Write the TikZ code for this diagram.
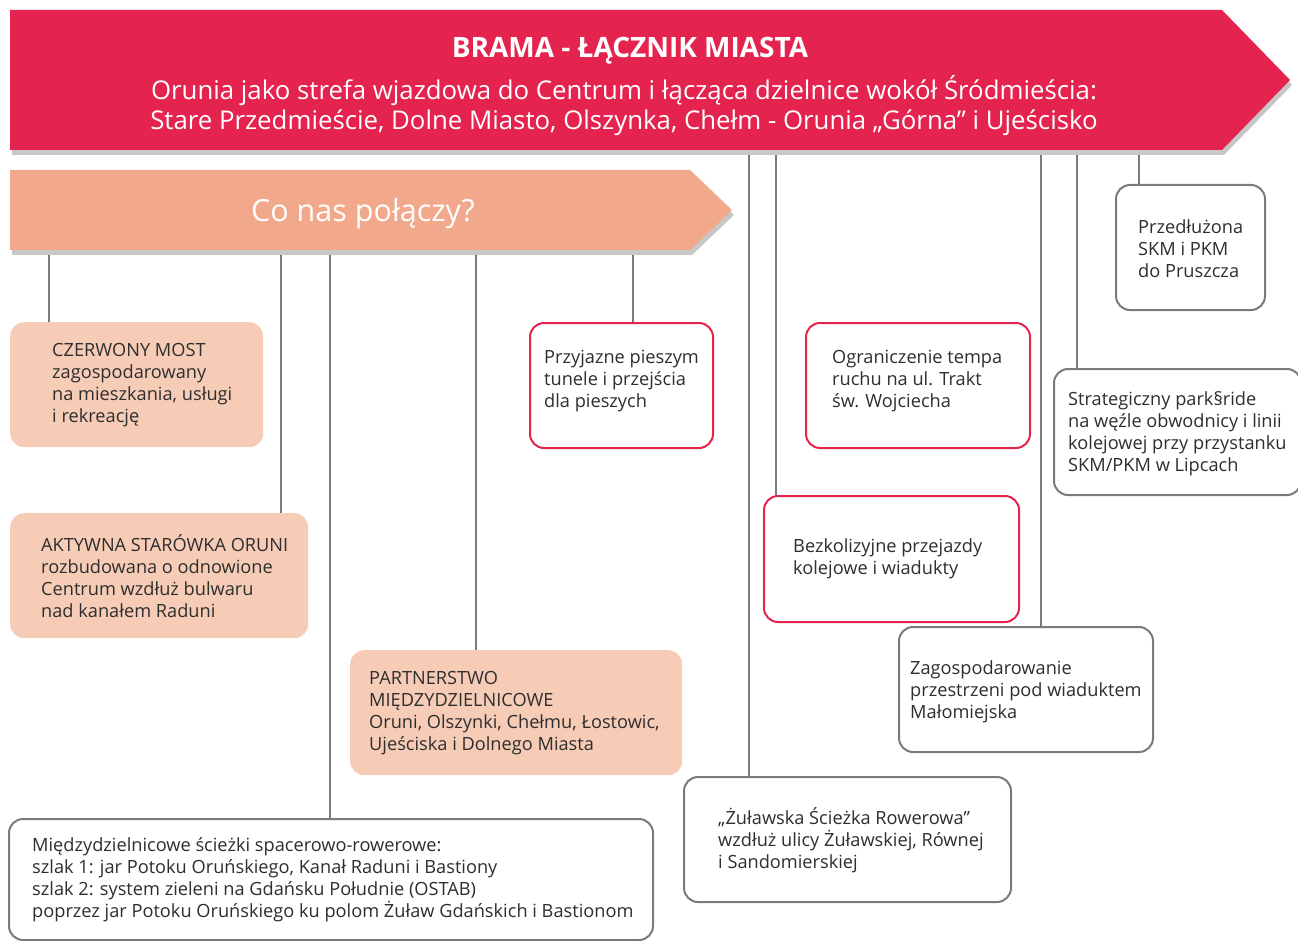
\documentclass[tikz,border=0pt]{standalone}
\usepackage{fontspec}
\setmainfont{Open Sans}
\definecolor{brred}{HTML}{E4234F}
\definecolor{brsalmon}{HTML}{F2A88A}
\definecolor{brlight}{HTML}{F6CCB7}
\definecolor{lngray}{HTML}{7A7A7A}
\definecolor{txtgray}{HTML}{2E2E2E}
\begin{document}
\begin{tikzpicture}[x=1pt,y=-1pt,
  pbox/.style={rectangle, rounded corners=14pt, anchor=north west, inner sep=0pt},
  fillbox/.style={pbox, fill=brlight},
  redbox/.style={pbox, draw=brred, line width=2pt, fill=white},
  graybox/.style={pbox, draw=lngray, line width=2pt, fill=white},
  txt/.style={anchor=west, align=left, font=\fontsize{18.2}{22}\selectfont, text=txtgray, inner sep=0pt},
  conn/.style={draw=lngray, line width=1.8pt},
  shadow/.style={fill=black!22}]
\useasboundingbox (0,0) rectangle (1298,941);
% connector start points
\coordinate (s1) at (49,252);
\coordinate (s2) at (281,252);
\coordinate (s3) at (330,252);
\coordinate (s4) at (476,252);
\coordinate (s5) at (633,252);
\coordinate (r1) at (749,152);
\coordinate (r2) at (776,152);
\coordinate (r3) at (1041,152);
\coordinate (r4) at (1077,152);
\coordinate (r5) at (1139,152);
% boxes
\node[fillbox, minimum width=253pt, minimum height=125pt] (czer) at (10,322) {};
\node[fillbox, minimum width=298pt, minimum height=125pt] (akt) at (10,513) {};
\node[fillbox, minimum width=332pt, minimum height=125pt] (part) at (350,650) {};
\node[graybox, minimum width=644pt, minimum height=121pt] (miedz) at (8,818) {};
\node[redbox, minimum width=183pt, minimum height=125pt] (przyj) at (529,322) {};
\node[redbox, minimum width=224pt, minimum height=125pt] (ogr) at (805,322) {};
\node[redbox, minimum width=255pt, minimum height=126pt] (bezk) at (763,495) {};
\node[graybox, minimum width=254pt, minimum height=125pt] (zag) at (898,626) {};
\node[graybox, minimum width=327pt, minimum height=125pt] (zul) at (683,776) {};
\node[graybox, minimum width=149pt, minimum height=125pt] (przed) at (1115,184) {};
\node[graybox, minimum width=247pt, minimum height=126pt] (strat) at (1053,368) {};
% connectors
\draw[conn] (s1) -- (s1 |- czer.north);
\draw[conn] (s2) -- (s2 |- akt.north);
\draw[conn] (s3) -- (s3 |- miedz.north);
\draw[conn] (s4) -- (s4 |- part.north);
\draw[conn] (s5) -- (s5 |- przyj.north);
\draw[conn] (r1) -- (r1 |- zul.north);
\draw[conn] (r2) -- (r2 |- bezk.north);
\draw[conn] (r3) -- (r3 |- zag.north);
\draw[conn] (r4) -- (r4 |- strat.north);
\draw[conn] (r5) -- (r5 |- przed.north);
% banners
\fill[shadow] (12,15) -- (1224,15) -- (1292,85) -- (1224,155) -- (12,155) -- cycle;
\fill[brred] (10,10) -- (1222,10) -- (1290,80) -- (1222,150) -- (10,150) -- cycle;
\fill[shadow] (12,175) -- (692,175) -- (734,215) -- (692,255) -- (12,255) -- cycle;
\fill[brsalmon] (10,170) -- (690,170) -- (732,210) -- (690,250) -- (10,250) -- cycle;
\node[text=white, font=\fontsize{28}{32}\selectfont\bfseries] (title) at (630,51) {BRAMA - ŁĄCZNIK MIASTA};
\node[text=white, font=\fontsize{25.8}{30}\selectfont, align=center] (sub) at (624,106) {Orunia jako strefa wjazdowa do Centrum i łącząca dzielnice wokół Śródmieścia:\\Stare Przedmieście, Dolne Miasto, Olszynka, Chełm - Orunia „Górna” i Ujeścisko};
\node[text=white, font=\fontsize{30.5}{34}\selectfont] (co) at (363,214) {Co nas połączy?};
% texts
\node[txt] at ([xshift=42pt]czer.west) {CZERWONY MOST\\zagospodarowany\\na mieszkania, usługi\\i rekreację};
\node[txt] at ([xshift=31pt]akt.west) {AKTYWNA STARÓWKA ORUNI\\rozbudowana o odnowione\\Centrum wzdłuż bulwaru\\nad kanałem Raduni};
\node[txt] at ([xshift=19pt]part.west) {PARTNERSTWO\\MIĘDZYDZIELNICOWE\\Oruni, Olszynki, Chełmu, Łostowic,\\Ujeściska i Dolnego Miasta};
\node[txt] at ([xshift=24pt]miedz.west) {Międzydzielnicowe ścieżki spacerowo-rowerowe:\\szlak 1: jar Potoku Oruńskiego, Kanał Raduni i Bastiony\\szlak 2: system zieleni na Gdańsku Południe (OSTAB)\\poprzez jar Potoku Oruńskiego ku polom Żuław Gdańskich i Bastionom};
\node[txt] at ([xshift=15pt,yshift=4pt]przyj.west) {Przyjazne pieszym\\tunele i przejścia\\dla pieszych};
\node[txt] at ([xshift=27pt,yshift=4pt]ogr.west) {Ograniczenie tempa\\ruchu na ul. Trakt\\św. Wojciecha};
\node[txt] at ([xshift=30pt]bezk.west) {Bezkolizyjne przejazdy\\kolejowe i wiadukty};
\node[txt] at ([xshift=12pt,yshift=-2pt]zag.west) {Zagospodarowanie\\przestrzeni pod wiaduktem\\Małomiejska};
\node[txt] at ([xshift=35pt,yshift=-1pt]zul.west) {„Żuławska Ścieżka Rowerowa”\\wzdłuż ulicy Żuławskiej, Równej\\i Sandomierskiej};
\node[txt] at ([xshift=23pt,yshift=-1pt]przed.west) {Przedłużona\\SKM i PKM\\do Pruszcza};
\node[txt] at ([xshift=15pt,yshift=-2pt]strat.west) {Strategiczny park§ride\\na węźle obwodnicy i linii\\kolejowej przy przystanku\\SKM/PKM w Lipcach};
\end{tikzpicture}
\end{document}
